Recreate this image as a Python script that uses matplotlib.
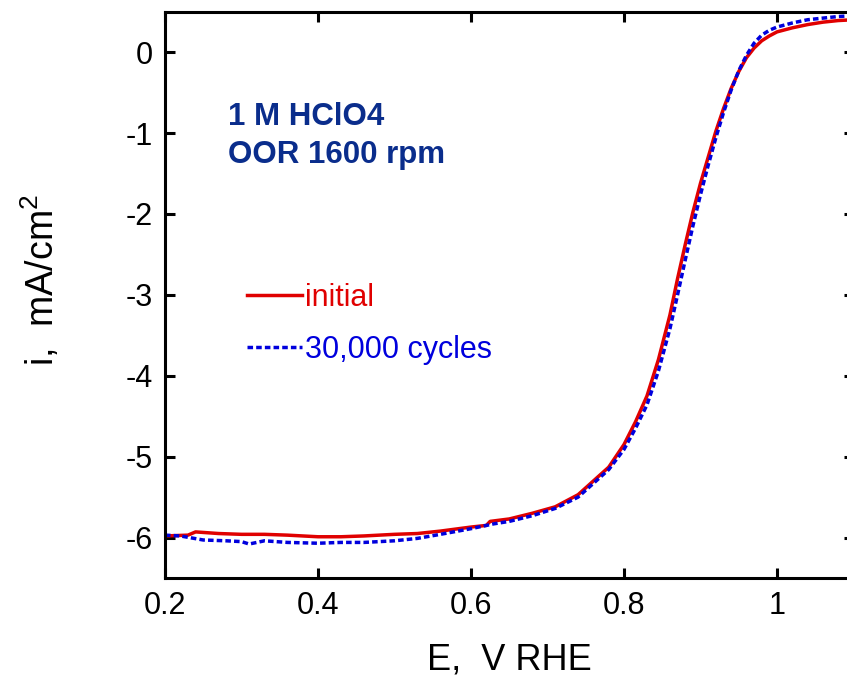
import numpy as np
import matplotlib.pyplot as plt

# RDE polarization curves (ORR)
E_initial = [0.2, 0.23, 0.24, 0.27, 0.3, 0.33, 0.36, 0.4, 0.43, 0.46, 0.5,
             0.53, 0.56, 0.6, 0.62, 0.625, 0.65, 0.68, 0.71, 0.74, 0.76,
             0.78, 0.8, 0.815, 0.83, 0.845, 0.86, 0.87, 0.88, 0.89, 0.9,
             0.91, 0.92, 0.93, 0.94, 0.95, 0.96, 0.97, 0.98, 0.99, 1.0,
             1.02, 1.04, 1.06, 1.08, 1.1]
i_initial = [-5.98, -5.97, -5.93, -5.95, -5.96, -5.96, -5.97, -5.99, -5.99,
             -5.98, -5.96, -5.95, -5.92, -5.87, -5.85, -5.80, -5.77, -5.70,
             -5.62, -5.47, -5.30, -5.13, -4.85, -4.57, -4.25, -3.80, -3.25,
             -2.80, -2.38, -1.98, -1.62, -1.30, -0.98, -0.70, -0.45, -0.24,
             -0.07, 0.05, 0.14, 0.20, 0.25, 0.30, 0.34, 0.37, 0.39, 0.40]

E_cycled = [0.2, 0.22, 0.25, 0.28, 0.3, 0.31, 0.33, 0.36, 0.4, 0.43, 0.46,
            0.5, 0.53, 0.56, 0.6, 0.63, 0.65, 0.68, 0.71, 0.74, 0.76, 0.78,
            0.8, 0.815, 0.83, 0.845, 0.86, 0.87, 0.88, 0.89, 0.9, 0.91,
            0.92, 0.93, 0.94, 0.95, 0.96, 0.97, 0.98, 0.99, 1.0, 1.02,
            1.04, 1.06, 1.08, 1.1]
i_cycled = [-5.97, -5.98, -6.03, -6.04, -6.05, -6.08, -6.04, -6.06, -6.07,
            -6.06, -6.06, -6.04, -6.01, -5.96, -5.89, -5.83, -5.80, -5.73,
            -5.64, -5.50, -5.33, -5.16, -4.91, -4.65, -4.36, -3.94, -3.42,
            -3.00, -2.57, -2.15, -1.76, -1.40, -1.06, -0.75, -0.47, -0.23,
            -0.04, 0.11, 0.21, 0.27, 0.31, 0.36, 0.40, 0.42, 0.44, 0.45]

plt.rcParams['font.family'] = ['Liberation Sans', 'DejaVu Sans']
plt.rcParams['mathtext.fontset'] = 'custom'
plt.rcParams['mathtext.rm'] = 'Liberation Sans'
plt.rcParams['axes.unicode_minus'] = False

fig = plt.figure(figsize=(8.47, 6.77), dpi=100)
ax = fig.add_axes([0.1948, 0.1462, 0.8129, 0.8366])

ax.plot(E_initial, i_initial, color='#e00000', lw=2.5, label='initial')
ax.plot(E_cycled, i_cycled, color='#0000dd', lw=2.5,
        linestyle=(0, (1.6, 0.9)), label='30,000 cycles')

ax.set_xlim(0.2, 1.1)
ax.set_ylim(-6.5, 0.5)
ax.set_xticks([0.2, 0.4, 0.6, 0.8, 1.0])
ax.set_xticklabels(['0.2', '0.4', '0.6', '0.8', '1'])
ax.set_yticks(range(-6, 1))

for s in ax.spines.values():
    s.set_linewidth(2.2)
ax.tick_params(direction='in', length=7, width=2.2, labelsize=22,
               top=True, right=True, pad=9)

ax.set_xlabel('E,  V RHE', fontsize=26, labelpad=16)
ax.set_ylabel('i,  mA/cm$^\\mathregular{2}$', fontsize=27)
ax.yaxis.set_label_coords(-0.15, 0.526)

ax.text(0.282, -0.90, '1 M HClO4', fontsize=22.5, fontweight='bold',
        color='#0a2d8c', va='baseline')
ax.text(0.282, -1.37, 'OOR 1600 rpm', fontsize=22.5, fontweight='bold',
        color='#0a2d8c', va='baseline')

ax.legend(loc='upper left', bbox_to_anchor=(0.119, 0.521), frameon=False,
          fontsize=22, handlelength=1.8, handletextpad=0.1, borderpad=0,
          borderaxespad=0, labelspacing=0.71, labelcolor='linecolor')

fig.savefig('out.png', dpi=100)
